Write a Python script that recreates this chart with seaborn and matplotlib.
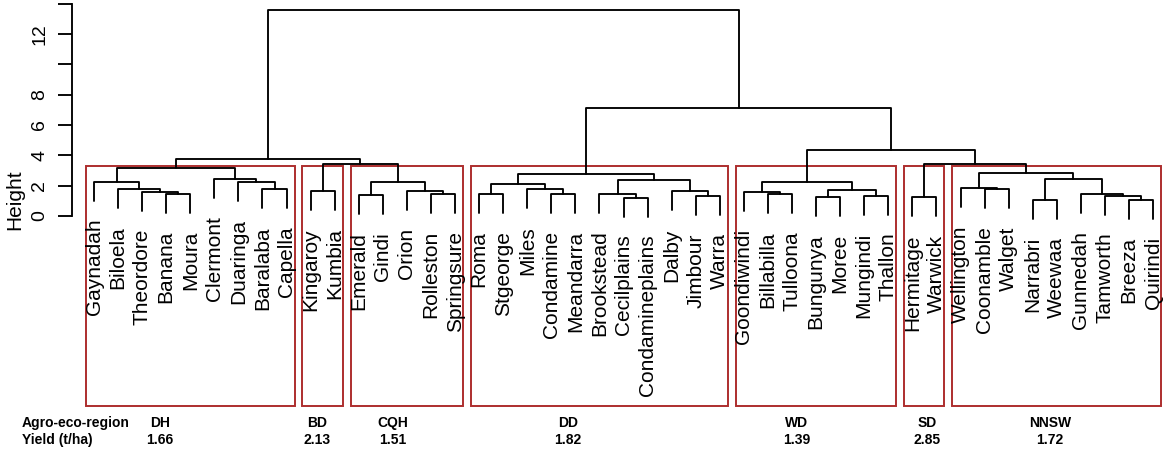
import matplotlib
matplotlib.use("Agg")
import matplotlib.pyplot as plt
import pandas as pd
import seaborn as sns
from matplotlib.patches import Rectangle

# Leaves in plotting order
leaves = ["Gaynadah", "Biloela", "Theordore", "Banana", "Moura", "Clermont",
          "Duaringa", "Baralaba", "Capella",
          "Kingaroy", "Kumbia",
          "Emerald", "Gindi", "Orion", "Rolleston", "Springsure",
          "Roma", "Stgeorge", "Miles", "Condamine", "Meandarra", "Brookstead",
          "Cecilplains", "Condamineplains", "Dalby", "Jimbour", "Warra",
          "Goondiwindi", "Billabilla", "Tulloona", "Bungunya", "Moree",
          "Mungindi", "Thallon",
          "Hermitage", "Warwick",
          "Wellington", "Coonamble", "Walget", "Narrabri", "Weewaa",
          "Gunnedah", "Tamworth", "Breeza", "Quirindi"]

# Merges: (left, right, height); str = leaf, int = earlier merge row
merges = [
    ("Banana", "Moura", 1.45),            # 0
    ("Theordore", 0, 1.60),               # 1
    ("Biloela", 1, 1.78),                 # 2
    ("Gaynadah", 2, 2.26),                # 3
    ("Baralaba", "Capella", 1.76),        # 4
    ("Duaringa", 4, 2.26),                # 5
    ("Clermont", 5, 2.42),                # 6
    (3, 6, 3.14),                         # 7  DH
    ("Kingaroy", "Kumbia", 1.65),         # 8  BD
    ("Emerald", "Gindi", 1.38),           # 9
    ("Rolleston", "Springsure", 1.45),    # 10
    ("Orion", 10, 1.65),                  # 11
    (9, 11, 2.26),                        # 12 CQH
    (8, 12, 3.41),                        # 13
    (7, 13, 3.76),                        # 14
    ("Roma", "Stgeorge", 1.45),           # 15
    ("Condamine", "Meandarra", 1.44),     # 16
    ("Miles", 16, 1.78),                  # 17
    (15, 17, 2.10),                       # 18
    ("Cecilplains", "Condamineplains", 1.21),  # 19
    ("Brookstead", 19, 1.48),             # 20
    ("Jimbour", "Warra", 1.30),           # 21
    ("Dalby", 21, 1.62),                  # 22
    (20, 22, 2.37),                       # 23
    (18, 23, 2.80),                       # 24 DD
    ("Billabilla", "Tulloona", 1.45),     # 25
    ("Goondiwindi", 25, 1.60),            # 26
    ("Bungunya", "Moree", 1.27),          # 27
    ("Mungindi", "Thallon", 1.34),        # 28
    (27, 28, 1.71),                       # 29
    (26, 29, 2.24),                       # 30 WD
    ("Hermitage", "Warwick", 1.23),       # 31 SD
    ("Coonamble", "Walget", 1.76),        # 32
    ("Wellington", 32, 1.82),             # 33
    ("Narrabri", "Weewaa", 1.05),         # 34
    ("Breeza", "Quirindi", 1.05),         # 35
    ("Tamworth", 35, 1.34),               # 36
    ("Gunnedah", 36, 1.45),               # 37
    (34, 37, 2.42),                       # 38
    (33, 38, 2.81),                       # 39 NNSW
    (31, 39, 3.45),                       # 40
    (30, 40, 4.35),                       # 41
    (24, 41, 7.10),                       # 42
    (14, 42, 13.58),                      # 43
]

regions = ["DH", "BD", "CQH", "DD", "WD", "SD", "NNSW"]
region_sizes = [9, 2, 5, 11, 7, 2, 9]
yields = [1.66, 2.13, 1.51, 1.82, 1.39, 2.85, 1.72]

y_ticks = [0, 2, 4, 6, 8, 10, 12, 14]
y_ticklabels = ["0", "2", "4", "6", "8", "", "12", ""]

# layout (pixels of the 1169x450 picture)
W, H = 1169, 450
leaf0_px, leaf_step_px = 94, 24.07
zero_px, unit_px = 216, 15.17
axis_px = 72
box_bottom_px = 406
region_label_px = [160, 317, 393, 568, 797, 927, 1050]
box_color = "#AD2E2E"

sns.set_style("white")
plt.rcParams["font.family"] = ["Liberation Sans", "DejaVu Sans"]
plt.rcParams["text.color"] = "black"
plt.rcParams["axes.labelcolor"] = "black"
plt.rcParams["ytick.color"] = "black"

fig = plt.figure(figsize=(W / 100, H / 100), dpi=100)
ax = fig.add_axes([0, 0, 1, 1])


def px_to_pos(px):
    return 1 + (px - leaf0_px) / leaf_step_px


def py_to_h(py):
    return (zero_px - py) / unit_px


# dendrogram geometry
leaf_pos = {name: i + 1 for i, name in enumerate(leaves)}
heights = [m[2] for m in merges]
hang = 0.1 * (max(heights) - min(heights))
node_x = []
tips = {}
rows = []
for k, (a, b, h) in enumerate(merges):
    pts = []
    for c in (a, b):
        if isinstance(c, str):
            tips[c] = h - hang
            pts.append((leaf_pos[c], h - hang))
        else:
            pts.append((node_x[c], heights[c]))
    (xa, ya), (xb, yb) = pts
    node_x.append((xa + xb) / 2)
    for order, (x, y) in enumerate([(xa, ya), (xa, h), (xb, h), (xb, yb)]):
        rows.append(dict(merge=k, order=order, x=x, y=y))
seg = pd.DataFrame(rows)

sns.lineplot(data=seg, x="x", y="y", units="merge", estimator=None,
             sort=False, color="black", lw=1.35, ax=ax)

for name in leaves:
    ax.annotate(name, (leaf_pos[name], tips[name]), xytext=(0, -13),
                textcoords="offset points", rotation=90, ha="center",
                va="top", fontsize=15, color="black")

# cluster rectangles (like rect.hclust, k = 7)
hs = sorted(heights, reverse=True)
k = len(regions)
box_top = (hs[k - 2] + hs[k - 1]) / 2
box_bottom = py_to_h(box_bottom_px)
start = 1
for size in region_sizes:
    left = start - 0.34
    right = start + size - 1 + 0.33
    ax.add_patch(Rectangle((left, box_bottom), right - left, box_top - box_bottom,
                           fill=False, edgecolor=box_color, lw=1.4))
    start += size

# axes
ax.set_xlim(px_to_pos(0), px_to_pos(W))
ax.set_ylim(py_to_h(H), py_to_h(0))
ax.set_xlabel("")
ax.set_ylabel("")
ax.set_xticks([])
for s in ["top", "right", "bottom"]:
    ax.spines[s].set_visible(False)
ax.spines["left"].set_position(("data", px_to_pos(axis_px)))
ax.spines["left"].set_bounds(0, 14)
ax.spines["left"].set_linewidth(1.35)
ax.spines["left"].set_color("black")
ax.set_yticks(y_ticks)
ax.set_yticklabels(y_ticklabels, rotation=90, va="center", fontsize=14)
ax.tick_params(axis="y", left=True, length=10, width=1.35, pad=7,
               colors="black", labelcolor="black")

fig.text(15 / W, 1 - 200 / H, "Height", rotation=90, ha="center",
         va="center", fontsize=15, color="black")

# agro-eco-region table
fig.text(22 / W, 1 - 423 / H, "Agro-eco-region", ha="left", va="center",
         fontsize=10, fontweight="bold", color="black")
fig.text(22 / W, 1 - 440 / H, "Yield (t/ha)", ha="left", va="center",
         fontsize=10, fontweight="bold", color="black")
for name, val, px in zip(regions, yields, region_label_px):
    fig.text(px / W, 1 - 423 / H, name, ha="center", va="center",
             fontsize=10, fontweight="bold", color="black")
    fig.text(px / W, 1 - 440 / H, f"{val:.2f}", ha="center", va="center",
             fontsize=10, fontweight="bold", color="black")

fig.savefig("out.png", dpi=100)
